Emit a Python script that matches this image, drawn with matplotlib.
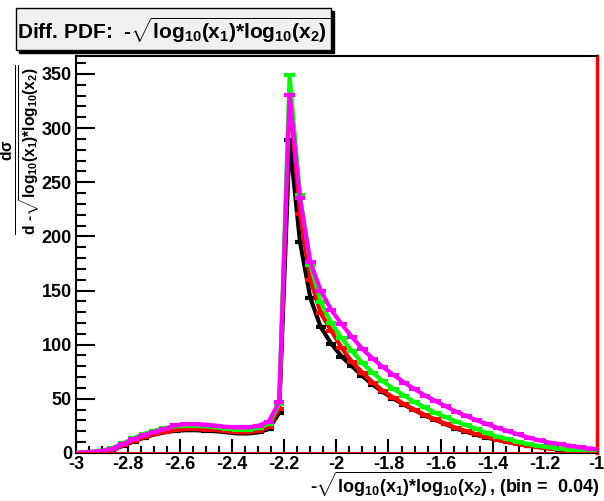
import numpy as np
import matplotlib
matplotlib.use("Agg")
from matplotlib import pyplot as plt
from matplotlib.patches import Rectangle
from matplotlib.ticker import MultipleLocator, FormatStrFormatter

plt.rcParams['font.family'] = ['Liberation Sans', 'DejaVu Sans']
plt.rcParams['font.weight'] = 'bold'
plt.rcParams['mathtext.fontset'] = 'custom'
plt.rcParams['mathtext.rm'] = 'Liberation Sans:bold'
plt.rcParams['mathtext.it'] = 'Liberation Sans:bold'
plt.rcParams['mathtext.bf'] = 'Liberation Sans:bold'
plt.rcParams['mathtext.sf'] = 'Liberation Sans:bold'

# bins of 0.04 from -3 to -1 (50 bins)
bin_edges = np.linspace(-3, -1, 51)
centers = 0.5 * (bin_edges[:-1] + bin_edges[1:])

black = [0.2, 0.5, 1.4, 3.2, 6.5, 10.5, 14, 17, 19, 20.5,
         21, 21, 20.5, 20, 19, 18, 18, 19, 22, 37,
         289, 195, 143, 116, 101, 89, 80, 71, 63, 56,
         50, 44.5, 39.5, 34.5, 30.5, 26.5, 22.5, 19.5, 16.5, 14,
         12, 10, 8.2, 6.7, 5.2, 4.1, 3.1, 2.4, 1.8, 1.3]
red = [0.2, 0.6, 1.5, 3.5, 7, 11, 14.5, 17.5, 19.5, 21,
       22, 22, 21.5, 21, 20, 19, 19, 20.5, 24, 41,
       331, 221, 160, 129, 113, 97, 84, 74, 65, 57,
       51, 45, 40, 35, 31, 27, 23, 20, 17, 14.5,
       12.2, 10, 8.2, 6.7, 5.3, 4.2, 3.2, 2.5, 1.9, 1.4]
green = [0.3, 0.9, 2, 4.5, 9, 13.5, 17.5, 20.5, 23, 24.5,
         25, 25, 24.5, 23.5, 22.5, 21.5, 21.5, 23, 27, 45,
         349, 238, 174, 139, 120, 106, 94, 83, 74, 66,
         59, 53, 47, 42, 37, 33, 29, 25.5, 22, 18,
         15, 12.5, 10, 8, 6.3, 5, 3.8, 2.9, 2.2, 1.6]
magenta = [0.3, 0.8, 1.8, 4, 8, 12.5, 16.5, 19.5, 22, 25.5,
           26.5, 26.5, 26, 25, 24, 23.5, 23.5, 25, 29, 47,
           331, 235, 176, 150, 132, 119, 107, 96, 87, 79,
           72, 65, 59, 53, 48, 43, 38, 34, 30, 26.5,
           23, 20, 17, 14, 11.5, 9.5, 8, 6.5, 5, 4]

series = [(black, 'black'), (red, 'red'), (green, '#00ff00'), (magenta, '#ff00ff')]

fig = plt.figure(figsize=(6.04, 5.01), dpi=100)
ax = fig.add_axes([0.126, 0.096, 0.862, 0.792])

for vals, col in series:
    ax.plot(centers, vals, color=col, lw=3, zorder=3)
    ax.errorbar(centers, vals, xerr=0.02, fmt='none', ecolor=col, elinewidth=3, zorder=3)

ax.axhline(0, color='red', lw=2, zorder=4)
ax.set_xlim(-3, -1)
ax.set_ylim(0, 366.5)

ax.xaxis.set_major_locator(MultipleLocator(0.2))
ax.xaxis.set_minor_locator(MultipleLocator(0.05))
ax.yaxis.set_major_locator(MultipleLocator(50))
ax.yaxis.set_minor_locator(MultipleLocator(10))
ax.xaxis.set_major_formatter(FormatStrFormatter('%g'))
ax.yaxis.set_major_formatter(FormatStrFormatter('%g'))
ax.tick_params(which='both', direction='in', top=False, right=False, width=1.5, labelsize=13)
ax.tick_params(axis='x', which='major', length=10, pad=2)
ax.tick_params(axis='x', which='minor', length=5)
ax.tick_params(axis='y', which='major', length=14, pad=3)
ax.tick_params(axis='y', which='minor', length=7)
for lab in ax.get_xticklabels() + ax.get_yticklabels():
    lab.set_fontweight('bold')
for sp in ax.spines.values():
    sp.set_linewidth(1.5)
ax.spines['right'].set_color('red')
ax.spines['right'].set_linewidth(2.5)

root = r'\sqrt{log_{10}(x_1){*}log_{10}(x_2)}'
fig.text(0.992, 0.003, '-$' + root + '$, (bin =  0.04)',
         ha='right', va='bottom', fontsize=13, fontweight='bold')
fig.text(0.036, 0.70, r'$\frac{d\sigma}{d\ \text{-}' + root + '}$',
         rotation=90, ha='center', va='center', fontsize=16)

# title box with shadow
fig.patches.append(Rectangle((0.0315, 0.894), 0.5215, 0.0838, transform=fig.transFigure,
                             facecolor='black', edgecolor='black', zorder=5))
fig.patches.append(Rectangle((0.0265, 0.900), 0.5215, 0.0838, transform=fig.transFigure,
                             facecolor='#f0f0f0', edgecolor='black', lw=1, zorder=6))
fig.text(0.287, 0.940, 'Diff. PDF:  -$' + root + '$',
         ha='center', va='center', fontsize=15, fontweight='bold', zorder=7)

fig.savefig('out.png', dpi=100)
